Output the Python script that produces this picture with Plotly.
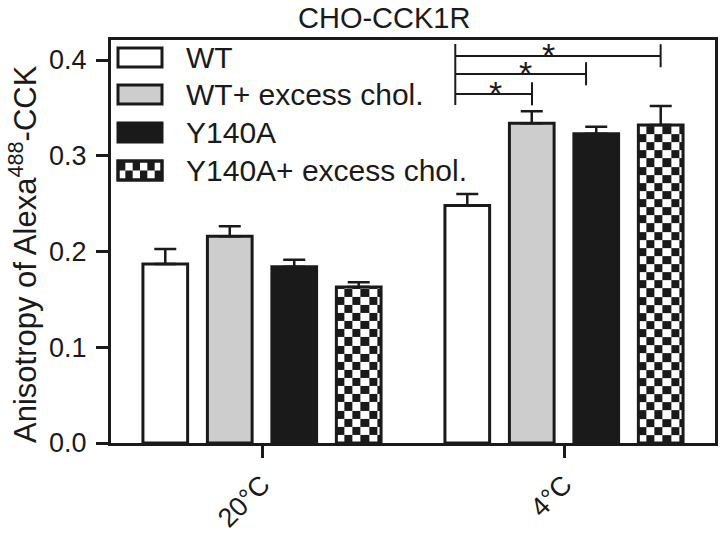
import numpy as np
import plotly.graph_objects as go

# ---------------- data ----------------
categories = ["20°C", "4°C"]
series_names = ["WT", "WT+ excess chol.", "Y140A", "Y140A+ excess chol."]
wt = [0.187, 0.248]
wt_err = [0.0155, 0.012]
wt_chol = [0.216, 0.334]
wt_chol_err = [0.0105, 0.0125]
y140a = [0.184, 0.323]
y140a_err = [0.0075, 0.0073]
y140a_chol = [0.163, 0.332]
y140a_chol_err = [0.005, 0.020]

# significance brackets (4°C group): level, right end, star
sig_levels = [0.3645, 0.3854, 0.4042]
sig_right = [0.894, 1.073, 1.320]
sig_left = 0.640
sig_star_x = [0.772, 0.871, 0.950]

values = [wt, wt_chol, y140a, y140a_chol]
errors = [wt_err, wt_chol_err, y140a_err, y140a_chol_err]
fills = ["#ffffff", "#cdcdcd", "#1a1a1a", "rgba(0,0,0,0)"]

FONT = "Liberation Sans, Arial, sans-serif"
INK = "#1a1a1a"

# ---------------- geometry ----------------
L, R, T, B = 111, 5, 40, 90
W_PX, H_PX = 720, 533
PW = W_PX - L - R
PH = H_PX - T - B
YMAX = 0.4209
step = 0.2135
bw = 0.148
xcat = list(range(len(categories)))

def px_x(p):
    return (p - L) / PW

def px_y(p):
    return (H_PX - B - p) / PH

fig = go.Figure()

# checkerboard fill for last series (drawn below outlines)
cells_x = 5.5
dx = bw / cells_x
dy = dx * (PW / 2.0) / (PH / YMAX)
for ci, v in enumerate(y140a_chol):
    center = xcat[ci] + (3 - 1.5) * step
    left, right = center - bw / 2, center + bw / 2
    xe = list(np.arange(left, right - 1e-9, dx)) + [right]
    ye = list(np.arange(0, v - 1e-9, dy)) + [v]
    z = [[(i + j) % 2 for j in range(len(xe) - 1)] for i in range(len(ye) - 1)]
    fig.add_trace(go.Heatmap(x=xe, y=ye, z=z, zmin=0, zmax=1,
                             colorscale=[[0, "#ffffff"], [1, INK]],
                             showscale=False, hoverinfo="skip"))

for si, name in enumerate(series_names):
    fig.add_trace(go.Bar(
        x=xcat, y=values[si], name=name,
        width=bw, offset=(si - 1.5) * step - bw / 2,
        marker=dict(color=fills[si], line=dict(color=INK, width=3)),
        error_y=dict(type="data", array=errors[si], symmetric=False,
                     arrayminus=[0] * len(xcat), color=INK, thickness=2.5, width=11),
        showlegend=False,
    ))

shapes = []
# brackets
shapes.append(dict(type="line", xref="x", yref="y", x0=sig_left, x1=sig_left,
                   y0=0.353, y1=0.4167, line=dict(color=INK, width=2)))
for lvl, xr in zip(sig_levels, sig_right):
    shapes.append(dict(type="line", xref="x", yref="y", x0=sig_left, x1=xr,
                       y0=lvl, y1=lvl, line=dict(color=INK, width=2)))
    shapes.append(dict(type="line", xref="x", yref="y", x0=xr, x1=xr,
                       y0=lvl - 0.0118, y1=lvl + 0.0123, line=dict(color=INK, width=2)))

annotations = []
for sx, lvl in zip(sig_star_x, sig_levels):
    annotations.append(dict(x=sx, y=lvl, xref="x", yref="y", text="*", showarrow=False,
                            yanchor="bottom", yshift=-20,
                            font=dict(family=FONT, size=34, color=INK)))

# manual legend
box_x0, box_x1 = 118, 162
rows = [(48, 67), (85, 104), (123, 142), (161, 180)]
leg_fill = ["#ffffff", "#cdcdcd", INK, "#ffffff"]
for i, (y0, y1) in enumerate(rows):
    shapes.append(dict(type="rect", xref="paper", yref="paper",
                       x0=px_x(box_x0), x1=px_x(box_x1), y0=px_y(y1), y1=px_y(y0),
                       fillcolor=leg_fill[i], line=dict(color=INK, width=3)))
    annotations.append(dict(x=px_x(184), y=px_y((y0 + y1) / 2), xref="paper", yref="paper",
                            text=series_names[i], showarrow=False, xanchor="left",
                            yanchor="middle", font=dict(family=FONT, size=30, color=INK)))
# checker in legend box
y0, y1 = rows[3]
ncol, nrow = 6, 2
cw = (box_x1 - box_x0) / ncol
ch = (y1 - y0) / nrow
for r in range(nrow):
    for c in range(ncol):
        if (r + c) % 2 == 0:
            shapes.append(dict(type="rect", xref="paper", yref="paper",
                               x0=px_x(box_x0 + c * cw), x1=px_x(box_x0 + (c + 1) * cw),
                               y0=px_y(y0 + (r + 1) * ch), y1=px_y(y0 + r * ch),
                               fillcolor=INK, line=dict(width=0)))
# re-draw outline on top of checker
shapes.append(dict(type="rect", xref="paper", yref="paper",
                   x0=px_x(box_x0), x1=px_x(box_x1), y0=px_y(y1), y1=px_y(y0),
                   fillcolor="rgba(0,0,0,0)", line=dict(color=INK, width=3)))

# title
annotations.append(dict(x=px_x(384), y=px_y(0), xref="paper", yref="paper",
                        text="CHO-CCK1R", showarrow=False, xanchor="center", yanchor="top",
                        font=dict(family=FONT, size=29, color=INK)))
# y-axis title
annotations.append(dict(x=px_x(23), y=px_y(254), xref="paper", yref="paper",
                        text="Anisotropy of Alexa<sup>488</sup>-CCK", textangle=-90,
                        showarrow=False, xanchor="center", yanchor="middle",
                        font=dict(family=FONT, size=31, color=INK)))

fig.update_layout(
    width=W_PX, height=H_PX,
    margin=dict(l=L, r=R, t=T, b=B),
    paper_bgcolor="white", plot_bgcolor="white",
    barmode="overlay",
    shapes=shapes, annotations=annotations,
    font=dict(family=FONT, color=INK),
    xaxis=dict(range=[-0.5, 1.5], tickvals=xcat, ticktext=categories, tickangle=-45,
               automargin=False,
               showgrid=False, zeroline=False, showline=True, linecolor=INK, linewidth=3,
               mirror=True, ticks="outside", ticklen=12, tickwidth=3, tickcolor=INK,
               tickfont=dict(family=FONT, size=27, color=INK)),
    yaxis=dict(range=[0, YMAX], tickvals=[0, 0.1, 0.2, 0.3, 0.4],
               ticktext=["0.0", "0.1", "0.2", "0.3", "0.4"],
               automargin=False, ticklabelstandoff=4,
               showgrid=False, zeroline=False, showline=True, linecolor=INK, linewidth=3,
               mirror=True, ticks="outside", ticklen=12, tickwidth=3, tickcolor=INK,
               tickfont=dict(family=FONT, size=27, color=INK)),
)

fig.write_html("out.html", config={"displayModeBar": False},
               post_script="document.body.style.margin='0';")
